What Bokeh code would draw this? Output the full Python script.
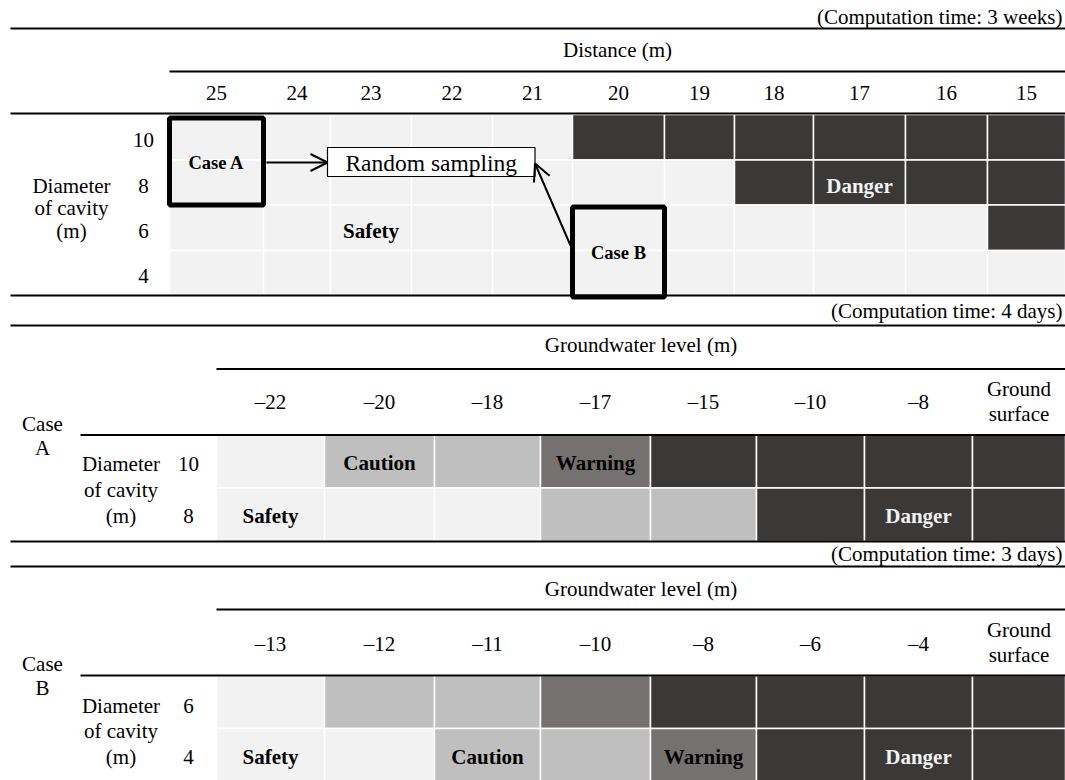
from bokeh.plotting import figure
from bokeh.models import Range1d, Arrow, OpenHead, ColumnDataSource
from bokeh.embed import file_html
from bokeh.resources import INLINE
from bokeh.core.properties import value

FONT = "Liberation Serif"

# ---------------- data ----------------
distances = [25, 24, 23, 22, 21, 20, 19, 18, 17, 16, 15]
diam_top = [10, 8, 6, 4]
state_top = [
    ["S", "S", "S", "S", "S", "D", "D", "D", "D", "D", "D"],
    ["S", "S", "S", "S", "S", "S", "S", "D", "D", "D", "D"],
    ["S", "S", "S", "S", "S", "S", "S", "S", "S", "S", "D"],
    ["S", "S", "S", "S", "S", "S", "S", "S", "S", "S", "S"],
]
gw_a = ["\u201322", "\u201320", "\u201318", "\u201317", "\u201315", "\u201310", "\u20138", "Ground surface"]
diam_a = [10, 8]
state_a = [
    ["S", "C", "C", "W", "D", "D", "D", "D"],
    ["S", "S", "S", "C", "C", "D", "D", "D"],
]
gw_b = ["\u201313", "\u201312", "\u201311", "\u201310", "\u20138", "\u20136", "\u20134", "Ground surface"]
diam_b = [6, 4]
state_b = [
    ["S", "C", "C", "W", "D", "D", "D", "D"],
    ["S", "S", "C", "C", "W", "D", "D", "D"],
]
state_names = {"S": "Safety", "C": "Caution", "W": "Warning", "D": "Danger"}
state_colors = {"S": "#F2F2F2", "C": "#BFBFBF", "W": "#767171", "D": "#3B3838"}
state_text_colors = {"S": "#000000", "C": "#000000", "W": "#000000", "D": "#F2F2F2"}
# (row index, column index, state) of the state names written in cells
labels_top = [(2, 2, "S"), (1, 8, "D")]
labels_a = [(1, 0, "S"), (0, 1, "C"), (0, 3, "W"), (1, 6, "D")]
labels_b = [(1, 0, "S"), (1, 2, "C"), (1, 4, "W"), (1, 6, "D")]
times = ["(Computation time: 3 weeks)", "(Computation time: 4 days)", "(Computation time: 3 days)"]
axis_top = "Distance (m)"
axis_gw = "Groundwater level (m)"
row_title = ["Diameter", "of cavity", "(m)"]
cases = ["Case A", "Case B"]
sampling = "Random sampling"

# ---------------- layout ----------------
top_cols = [169, 263, 330, 411, 492, 572, 664, 734, 813, 905, 987, 1065]
top_rows = [114, 159.5, 204.5, 250, 295]
sec_cols = [216, 324, 434, 540, 650, 756, 864, 972, 1065]
a_rows = [434.5, 487.5, 541]
b_rows = [675, 728, 781]

W, H = 1065, 780
p = figure(width=W, height=H, output_backend="svg", toolbar_location=None,
           x_range=Range1d(0, W), y_range=Range1d(H, 0),
           x_axis_type=None, y_axis_type=None, min_border=0)
p.outline_line_color = None
p.background_fill_color = "white"
p.border_fill_color = "white"


def cells(states, cols, rows):
    d = dict(left=[], right=[], top=[], bottom=[], color=[])
    for r, row in enumerate(states):
        for c, s in enumerate(row):
            d["left"].append(cols[c]); d["right"].append(cols[c + 1])
            d["top"].append(rows[r]); d["bottom"].append(rows[r + 1])
            d["color"].append(state_colors[s])
    p.quad(left="left", right="right", top="top", bottom="bottom", fill_color="color",
           line_color="white", line_width=1.5, source=ColumnDataSource(d))


cells(state_top, top_cols, top_rows)
cells(state_a, sec_cols, a_rows)
cells(state_b, sec_cols, b_rows)

# rules
rx0 = [10, 169, 10, 10, 10, 216, 80, 10, 10, 216, 80]
ry = [28, 71, 113, 295, 325, 368.5, 434.5, 541, 566, 609, 675]
p.segment(x0=rx0, y0=ry, x1=[1065] * len(ry), y1=ry, line_color="black", line_width=2)


def txt(xs, ys, texts, size="21px", bold=False, align="center", colors="black"):
    p.text(x=xs, y=ys, text=texts, text_font=value(FONT), text_font_size=size,
           text_font_style="bold" if bold else "normal", text_align=align,
           text_baseline="middle", text_color=colors)


def centers(edges):
    return [(edges[i] + edges[i + 1]) / 2 for i in range(len(edges) - 1)]


tc = centers(top_cols)
trc = centers(top_rows)
sc = centers(sec_cols)

# computation times and axis titles
txt([1062] * 3, [16, 310, 553], times, align="right")
txt([(169 + 1065) / 2], [49], [axis_top])
txt([(216 + 1065) / 2] * 2, [344, 588], [axis_gw] * 2)

# top section headers & row labels
txt(tc, [92] * len(tc), [str(d) for d in distances])
txt([143] * 4, [v + 3 for v in trc], [str(d) for d in diam_top])
txt([71] * 3, [185, 207.5, 230], row_title)

# section headers
for hdr, yh in ((gw_a, 401.7), (gw_b, 643.3)):
    plain = hdr[:-1]
    txt(sc[:-1], [yh] * len(plain), plain)
    g1, g2 = hdr[-1].split(" ")
    txt([sc[-1]] * 2, [yh - 13.5, yh + 11.5], [g1, g2])

txt([42, 42, 42, 42], [423, 447, 663, 687], ["Case", "A", "Case", "B"])
txt([120.5] * 6, [463, 489, 515, 705.7, 730.5, 756], row_title * 2)
txt([188] * 4, [463, 515, 705.7, 756], [str(d) for d in diam_a + diam_b])

# state labels
for labels, cols_c, rows_e, dy in ((labels_top, tc, top_rows, 3),
                                    (labels_a, sc, a_rows, 1.5),
                                    (labels_b, sc, b_rows, 1.5)):
    rc = centers(rows_e)
    txt([cols_c[c] for r, c, s in labels], [rc[r] + dy for r, c, s in labels],
        [state_names[s] for r, c, s in labels], bold=True,
        colors=[state_text_colors[s] for r, c, s in labels])

# case boxes
box_l = [top_cols[0], top_cols[5]]
box_r = [top_cols[1], top_cols[6]]
box_t = [top_rows[0] + 3.5, top_rows[2] + 2]
box_b = [top_rows[2], top_rows[4] + 1.5]
p.quad(left=box_l, right=box_r, top=box_t, bottom=box_b, fill_color=None,
       line_color="black", line_width=5)
txt([(a + b) / 2 for a, b in zip(box_l, box_r)], [(a + b) / 2 + 1 for a, b in zip(box_t, box_b)],
    cases, size="18.5px", bold=True)

# random sampling box
rs_l, rs_r, rs_t, rs_b = 327, 534.5, 147, 176
p.quad(left=[rs_l], right=[rs_r], top=[rs_t], bottom=[rs_b], fill_color="white",
       line_color="black", line_width=1.2)
txt([(rs_l + rs_r) / 2], [(rs_t + rs_b) / 2 + 1], [sampling], size="23.5px")

p.add_layout(Arrow(end=OpenHead(size=17, line_width=2, line_color="black"),
                   x_start=box_r[0] + 3, y_start=162, x_end=rs_l, y_end=162,
                   line_width=2, line_color="black"))
p.add_layout(Arrow(end=OpenHead(size=17, line_width=2, line_color="black"),
                   x_start=box_l[1] - 2, y_start=245, x_end=rs_r, y_end=rs_b - 13,
                   line_width=2, line_color="black"))

open("out.html", "w").write(file_html(p, INLINE))
